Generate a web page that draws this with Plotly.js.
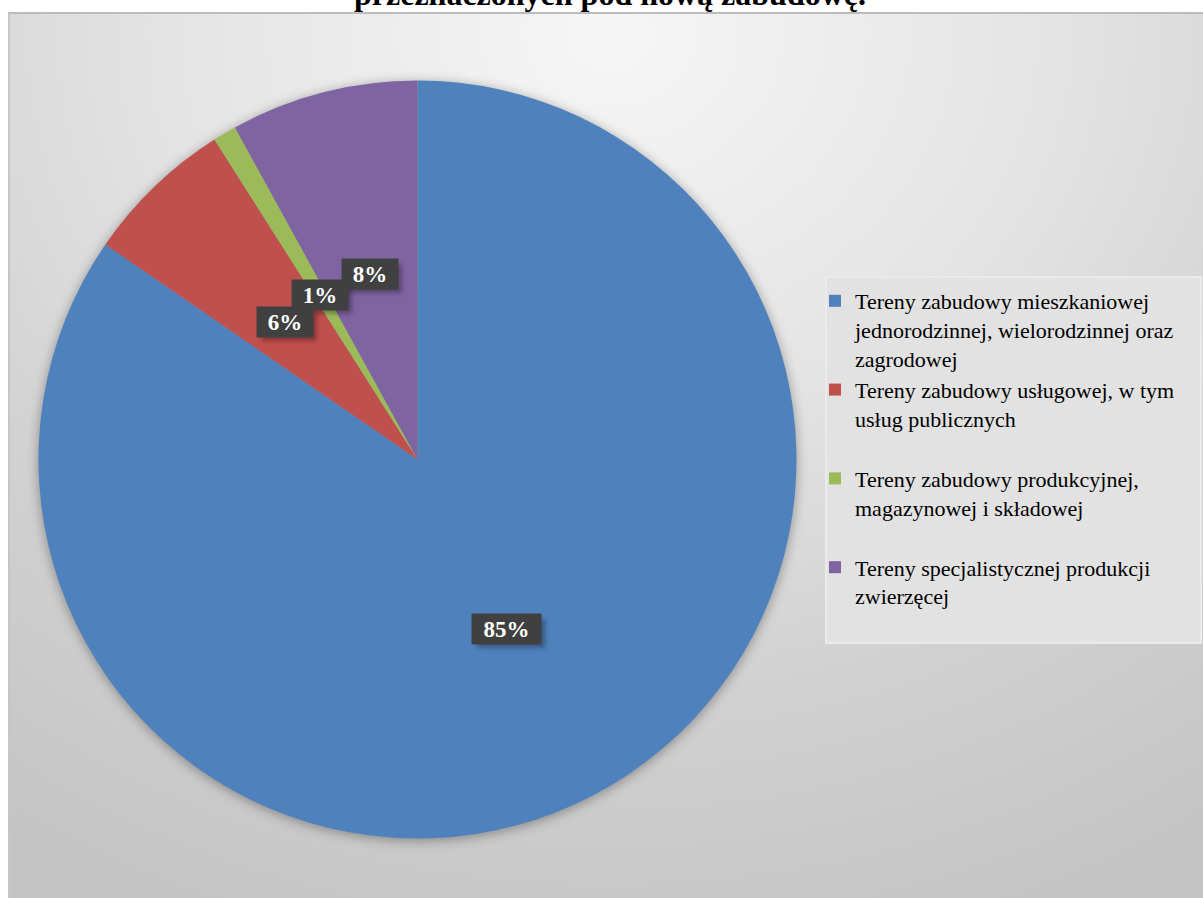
<!DOCTYPE html>
<html><head><meta charset="utf-8">
<script src="https://cdn.plot.ly/plotly-3.0.1.min.js"></script>
<style>
html,body{margin:0;padding:0;background:#fff;width:1203px;height:898px;overflow:hidden}
#bg{position:absolute;left:8px;top:12px;width:1195px;height:886px;box-sizing:border-box;border-top:2px solid #bcbcbc;border-left:2px solid #c6c6c6;background:radial-gradient(ellipse 1100px 950px at 600px 20px,#f6f6f6 0%,#e4e4e4 40%,#d1d1d1 70%,#c4c4c4 100%)}
#chart{position:absolute;left:0;top:0;width:1203px;height:898px}
.pielayer{filter:drop-shadow(0px 2px 6px rgba(0,0,0,0.35))}
.legendtext{font-family:"Liberation Serif","Times New Roman",serif !important}
.layer-above .shapelayer path.shadowbox{filter:blur(2px)}
</style></head><body>
<div id="bg"></div><div id="chart"></div>
<script>
// ---- data ----
const categories = [
  'Tereny zabudowy mieszkaniowej jednorodzinnej, wielorodzinnej oraz zagrodowej',
  'Tereny zabudowy usługowej, w tym usług publicznych',
  'Tereny zabudowy produkcyjnej, magazynowej i składowej',
  'Tereny specjalistycznej produkcji zwierzęcej'
];
const legendLabels = [
  'Tereny zabudowy mieszkaniowej<br>jednorodzinnej, wielorodzinnej oraz<br>zagrodowej',
  'Tereny zabudowy usługowej, w tym<br>usług publicznych',
  'Tereny zabudowy produkcyjnej,<br>magazynowej i składowej',
  'Tereny specjalistycznej produkcji<br>zwierzęcej'
];
const values = [84.6, 6.4, 1.0, 8.0];
const colors = ['#4f81bd', '#c0504d', '#9bbb59', '#8064a2'];
const titleText = 'przeznaczonych pod nową zabudowę.';

// ---- layout geometry ----
const W = 1203, H = 898;
const cx = 417.5, cy = 459.5, r = 379;
const SERIF = '"Liberation Serif", "Times New Roman", serif';

// pad legend entries to equal height (3 lines)
const maxLines = Math.max(...legendLabels.map(s => s.split('<br>').length));
const paddedLabels = legendLabels.map(s => {
  let n = s.split('<br>').length;
  let out = s;
  while (n < maxLines) { out += '<br>\u00a0'; n++; }
  return out;
});

const total = values.reduce((a, b) => a + b, 0);
const annotations = [];
const shapes = [{
  type: 'rect', xref: 'paper', yref: 'paper',
  x0: 826 / W, x1: 1201 / W, y0: 1 - 643 / H, y1: 1 - 277 / H,
  fillcolor: '#e2e2e2', line: {color: '#ebebeb', width: 2}, layer: 'below'
}];
let cum = 0;
const labelFont = {family: SERIF, size: 23, color: '#ffffff', weight: 'bold'};
values.forEach((v, i) => {
  const mid = (cum + v / 2) / total * 2 * Math.PI;
  cum += v;
  const k = 0.505;
  const px = cx + k * r * Math.sin(mid);
  const py = cy - k * r * Math.cos(mid);
  const txt = Math.round(v / total * 100) + '%';
  const bw = 28 + 13 * txt.length, bh = 28;
  shapes.push({
    type: 'rect', xref: 'paper', yref: 'paper', layer: 'above', name: 'shadow',
    x0: (px - bw / 2 + 4) / W, x1: (px + bw / 2 + 5) / W,
    y0: 1 - (py + bh / 2 + 5) / H, y1: 1 - (py - bh / 2 + 4) / H,
    fillcolor: 'rgba(0,0,0,0.30)', line: {width: 0}
  });
  annotations.push({
    xref: 'paper', yref: 'paper', x: px / W, y: 1 - py / H,
    xanchor: 'center', yanchor: 'middle', showarrow: false,
    text: txt, font: labelFont,
    bgcolor: '#404040', width: bw, height: bh
  });
});
annotations.push({
  xref: 'paper', yref: 'paper', x: 610 / W, y: 1 + 6 / H,
  xanchor: 'center', yanchor: 'middle', showarrow: false,
  text: titleText,
  font: {family: SERIF, size: 32, color: '#000000', weight: 'bold'}
});

const trace = {
  type: 'pie',
  values: values,
  labels: paddedLabels,
  customdata: categories,
  sort: false,
  direction: 'clockwise',
  rotation: 0,
  textinfo: 'none',
  hovertemplate: '%{customdata}: %{percent}<extra></extra>',
  marker: {colors: colors, line: {width: 0}},
  domain: {x: [(cx - r) / W, (cx + r) / W], y: [(H - cy - r) / H, (H - cy + r) / H]}
};

const layout = {
  width: W, height: H,
  margin: {l: 0, r: 0, t: 0, b: 0},
  font: {family: SERIF, color: '#000000'},
  paper_bgcolor: 'rgba(0,0,0,0)',
  plot_bgcolor: 'rgba(0,0,0,0)',
  showlegend: true,
  legend: {
    x: 815 / W, xanchor: 'left', y: 1 - 280 / H, yanchor: 'top',
    bgcolor: 'rgba(0,0,0,0)', borderwidth: 0,
    font: {family: SERIF, size: 22, color: '#000000'},
    valign: 'top', itemwidth: 30, traceorder: 'normal'
  },
  shapes: shapes,
  annotations: annotations
};

Plotly.newPlot('chart', [trace], layout, {displayModeBar: false, staticPlot: true}).then(gd => {
  document.querySelectorAll('.layer-above .shapelayer path').forEach(p => p.classList.add('shadowbox'));
});
</script>
</body></html>
